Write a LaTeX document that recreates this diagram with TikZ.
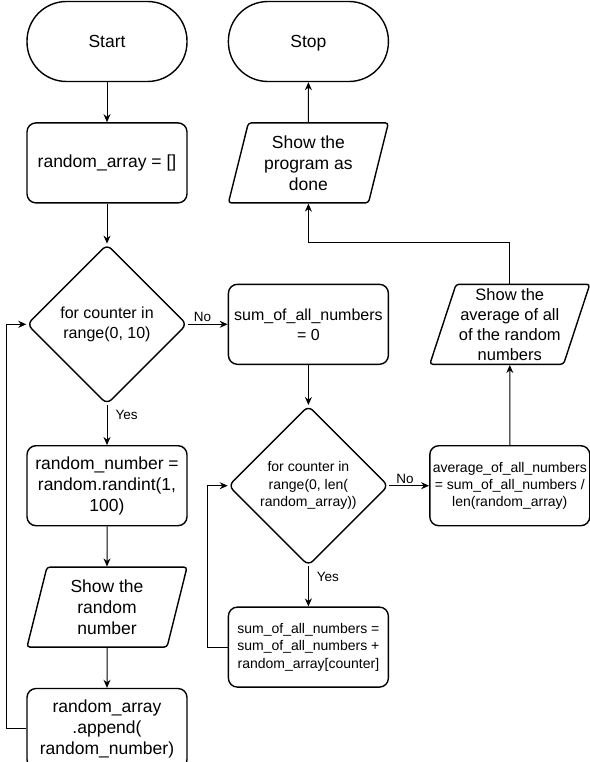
\documentclass[tikz,border=0pt]{standalone}
\usepackage{fontspec}
\setmainfont{Liberation Sans}
\usetikzlibrary{shapes.geometric,positioning,arrows.meta}

\begin{document}
\begin{tikzpicture}[
  node distance=40pt,
  every node/.style={align=center,font=\fontsize{17.5pt}{21pt}\selectfont},
  term/.style={rectangle,draw,rounded corners=39.5pt,line width=1.4pt,minimum width=160pt,minimum height=80pt,text height=14pt,text depth=1pt},
  proc/.style={rectangle,draw,rounded corners=9pt,line width=1.4pt,minimum width=160pt,minimum height=80pt,inner sep=1pt},
  dec/.style={diamond,draw,aspect=1,rounded corners=6pt,line width=1.4pt,minimum width=160pt,minimum height=160pt,inner sep=0pt},
  io/.style={trapezium,trapezium left angle=70,trapezium right angle=110,trapezium stretches body,draw,rounded corners=3pt,line width=1.4pt,minimum width=160pt,minimum height=80pt,inner sep=0pt},
  lbl/.style={font=\fontsize{13.5pt}{16pt}\selectfont,inner sep=2pt},
  flow/.style={line width=1pt,-{Stealth[length=8pt,width=7pt]}}
]
\useasboundingbox (0,0) rectangle (589pt,-762pt);

% left column
\node[term] (start) at (107pt,-41.5pt) {Start};
\node[proc, below=of start] (init) {random\_array = []};
\node[dec, below=of init, font=\fontsize{16pt}{20pt}\selectfont] (loop1) {for counter in\\range(0, 10)};
\node[proc, below=of loop1] (randnum) {random\_number =\\random.randint(1,\\100)};
\node[io, below=of randnum] (showrand) {Show the\\random\\number};
\node[proc, below=of showrand] (append) {random\_array\\.append(\\random\_number)};

% middle column
\node[term, right=of start] (stop) {Stop};
\node[io, below=of stop] (showdone) {Show the\\program as\\done};
\node[proc, right=of loop1, font=\fontsize{16pt}{20pt}\selectfont] (sum0) {sum\_of\_all\_numbers\\= 0};
\node[dec, below=of sum0, font=\fontsize{14pt}{17.5pt}\selectfont] (loop2) {for counter in\\range(0, len(\\random\_array))};
\node[proc, below=of loop2, font=\fontsize{14pt}{17.5pt}\selectfont] (addsum) {sum\_of\_all\_numbers =\\sum\_of\_all\_numbers +\\random\_array[counter]};

% right column
\node[proc, right=of loop2, font=\fontsize{14pt}{17pt}\selectfont] (avg) {average\_of\_all\_numbers\\= sum\_of\_all\_numbers /\\len(random\_array)};
\node[io, above=80pt of avg, font=\fontsize{16.5pt}{20pt}\selectfont] (showavg) {Show the\\average of all\\of the random\\numbers};

\draw[flow] (start) -- (init);
\draw[flow] (init) -- (loop1);
\draw[flow] (loop1) -- node[lbl,right=6pt,pos=0.26] {Yes} (randnum);
\draw[flow] (loop1) -- node[lbl,above,pos=0.37] {No} (sum0);
\draw[flow] (randnum) -- (showrand);
\draw[flow] (showrand) -- (append);
\draw[flow] (append.west) -- ++(-20pt,0) |- (loop1.west);
\draw[flow] (sum0) -- (loop2);
\draw[flow] (loop2) -- node[lbl,right=6pt,pos=0.26] {Yes} (addsum);
\draw[flow] (loop2) -- node[lbl,above,pos=0.4] {No} (avg);
\draw[flow] (addsum.west) -- ++(-20pt,0) |- (loop2.west);
\draw[flow] (avg) -- (showavg);
\draw[flow] (showavg.north) -- ++(0,41.5pt) -| (showdone.south);
\draw[flow] (showdone) -- (stop);
\end{tikzpicture}
\end{document}
